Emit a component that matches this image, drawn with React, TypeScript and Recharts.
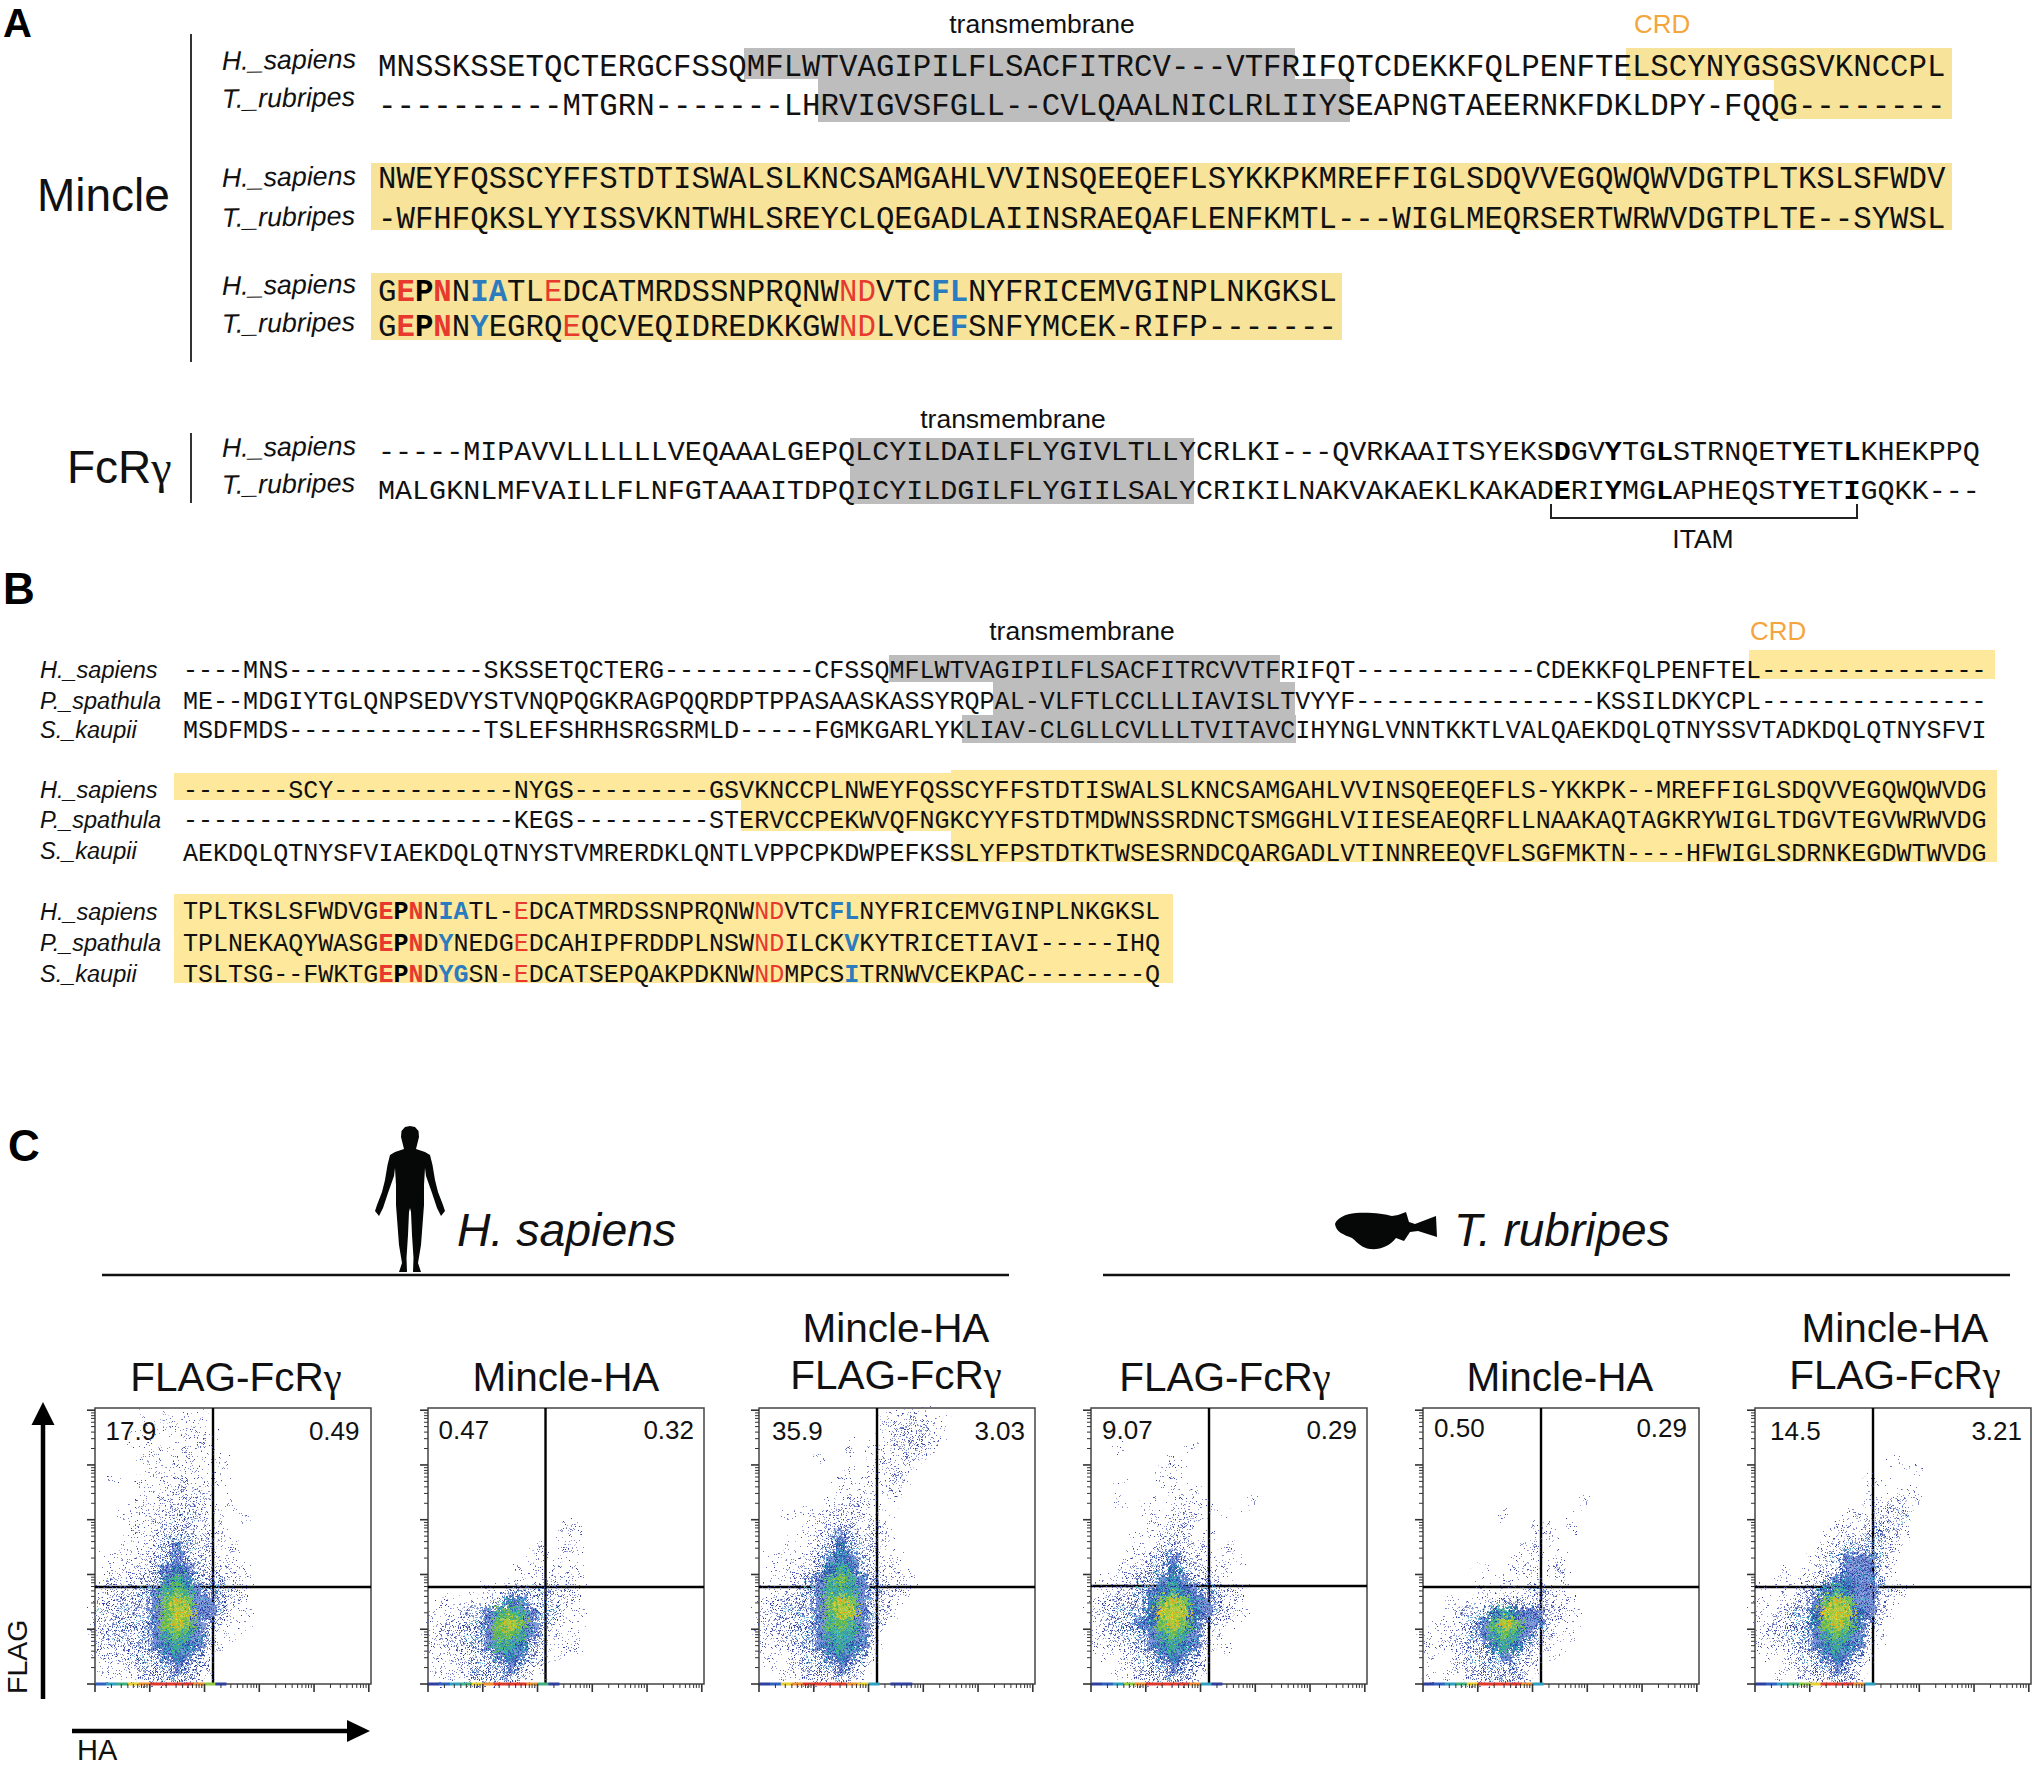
import { ScatterChart, Scatter, XAxis, YAxis, ReferenceLine, ReferenceArea } from "recharts";

// flow plots: density read per 0.2 decade bin, top row first. 0-8 levels, "." empty
const sapiensFlag = [
  "....1 .1.11 ..... ..... .....",
  "....1 .1111 ..... ..... .....",
  "...1. 1.111 1.... ..... .....",
  "....1 .1111 1.... ..... .....",
  "....1 1.111 11... ..... .....",
  "....1 11111 .1... ..... .....",
  ".1..1 11121 11... ..... .....",
  "....1 11222 1.... ..... .....",
  "...11 12222 1.1.. ..... .....",
  "..1.1 12232 11.1. ..... .....",
  "...11 22322 11... ..... .....",
  "...11 23332 21... ..... .....",
  "..111 23432 211.. ..... .....",
  ".1112 23432 211.. ..... .....",
  ".1112 34543 2211. ..... .....",
  ".2122 35653 3321. ..... .....",
  "12223 46764 3321. ..... .....",
  "22233 47874 4321. ..... .....",
  "32323 47884 4311. ..... .....",
  "22333 47874 3211. ..... .....",
  "23323 46764 3.1.. ..... .....",
  "22233 45654 21... ..... .....",
  "12233 34543 1.... ..... .....",
  "11123 33433 1.... ..... .....",
  ".1.12 33332 1.... ..... .....",
];
const sapiensMincle = [
  "..... ..... ..... ..... .....",
  "..... ..... ..... ..... .....",
  "..... ..... ..... ..... .....",
  "..... ..... ..... ..... .....",
  "..... ..... ..... ..... .....",
  "..... ..... ..... ..... .....",
  "..... ..... ..... ..... .....",
  "..... ..... ..... ..... .....",
  "..... ..... ..... ..... .....",
  "..... ..... ..... ..... .....",
  "..... ..... ..11. ..... .....",
  "..... ..... ..1.. ..... .....",
  "..... ..... 1.11. ..... .....",
  "..... ....1 1.1.. ..... .....",
  "..... ...1. 11.1. ..... .....",
  "..... ...11 1221. ..... .....",
  "..... 11233 3221. ..... .....",
  ".1.11 23542 3221. ..... .....",
  "11123 46764 3311. ..... .....",
  "12233 47874 3211. ..... .....",
  "12233 47764 3111. ..... .....",
  "12233 46653 2.11. ..... .....",
  "11223 34543 2.1.. ..... .....",
  "11123 33432 1.... ..... .....",
  ".1123 33321 1.... ..... .....",
];
const sapiensBoth = [
  "..... ..... .1121 1.... .....",
  "..... ..... .1222 21... .....",
  "..... ..... .1222 21... .....",
  "..... ...1. 11222 1.... .....",
  "..... 1.... 12121 ..... .....",
  "..... ...1. 1121. ..... .....",
  "..... ..111 1121. ..... .....",
  "..... ..111 112.. ..... .....",
  "..... .1122 1.... ..... .....",
  "..1.1 12221 1.1.. ..... .....",
  "....1 12321 21... ..... .....",
  "....1 23432 21... ..... .....",
  "..1.1 23532 21... ..... .....",
  ".1.12 34543 211.. ..... .....",
  ".1112 35653 211.. ..... .....",
  "..123 46764 3221. ..... .....",
  "11123 46664 3221. ..... .....",
  "12233 47874 321.. ..... .....",
  "22333 47884 321.. ..... .....",
  "22233 46764 31... ..... .....",
  "12233 46664 2.... ..... .....",
  "11233 45654 1.... ..... .....",
  "11123 34543 1.... ..... .....",
  ".1123 33432 ..... ..... .....",
  "..112 22321 ..... ..... .....",
];
const rubripesFlag = [
  "..... ..... ..... ..... .....",
  "..... ..... ..... ..... .....",
  "..... ..... ..... ..... .....",
  "..1.. ....1 ..... ..... .....",
  "..... ..1.. ..... ..... .....",
  "..... .111. ..... ..... .....",
  "..1.. .11.. ..... ..... .....",
  "..... ..111 ..... ..... .....",
  "..1.. 1.111 1...1 ..... .....",
  "..... 11121 1.1.. ..... .....",
  "..... 11222 ..... ..... .....",
  "....1 12221 1.... ..... .....",
  "...11 12321 1.1.. ..... .....",
  "...11 23432 11.1. ..... .....",
  "..112 33532 211.. ..... .....",
  ".1123 34543 321.. ..... .....",
  "11223 45654 3321. ..... .....",
  "12233 57875 4311. ..... .....",
  "22333 58885 4321. ..... .....",
  "12334 57875 321.. ..... .....",
  "12233 46764 21... ..... .....",
  "11223 45654 2.1.. ..... .....",
  ".1123 34543 1.... ..... .....",
  "..112 33433 1.... ..... .....",
  "...12 23332 ..... ..... .....",
];
const rubripesMincle = [
  "..... ..... ..... ..... .....",
  "..... ..... ..... ..... .....",
  "..... ..... ..... ..... .....",
  "..... ..... ..... ..... .....",
  "..... ..... ..... ..... .....",
  "..... ..... ..... ..... .....",
  "..... ..... ..... ..... .....",
  "..... ..... ..... ..... .....",
  "..... ..... ....1 ..... .....",
  "..... ..1.. ..... ..... .....",
  "..... ..... 11.1. ..... .....",
  "..... ....1 11... ..... .....",
  "..... ....1 1.... ..... .....",
  "..... ...11 1.1.. ..... .....",
  "..... 1..11 112.. ..... .....",
  "..... ..111 1.2.. ..... .....",
  "..... 1.112 321.. ..... .....",
  "..1.1 12332 3211. ..... .....",
  "..123 35654 4221. ..... .....",
  ".1123 46874 4211. ..... .....",
  "11123 46764 3211. ..... .....",
  "11223 35653 21... ..... .....",
  "1.123 33432 1.1.. ..... .....",
  "..122 33332 1.... ..... .....",
  "1.1.2 23332 ..... ..... .....",
];
const rubripesBoth = [
  "..... ..... ..... ..... .....",
  "..... ..... ..... ..... .....",
  "..... ..... ..... ..... .....",
  "..... ..... ..... ..... .....",
  "..... ..... ..1.. ..... .....",
  "..... ..... ....1 ..... .....",
  "..... ..... 11... ..... .....",
  "..... ..... 1..11 ..... .....",
  "..... ..... 11221 ..... .....",
  "..... ...11 1223. ..... .....",
  "..... ..111 2321. ..... .....",
  "..... .1122 3321. ..... .....",
  "..... 11233 331.. ..... .....",
  "..... 12344 431.. ..... .....",
  "..1.1 12344 421.. ..... .....",
  "..1.1 23454 431.. ..... .....",
  "1.112 35654 4221. ..... .....",
  "1.122 47874 421.. ..... .....",
  "11233 58885 421.. ..... .....",
  "12233 57875 31... ..... .....",
  "12233 46764 21... ..... .....",
  "11223 45654 1.... ..... .....",
  ".1123 34543 1.... ..... .....",
  "..112 33432 ..... ..... .....",
  "..1.1 22332 ..... ..... .....",
];

// events piled on the HA axis
const axisStrips = [
  "23467 88887 51... ..... .....",
  "12346 78887 41... ..... .....",
  "12678 88876 3.11. ..... .....",
  "12357 88887 31... ..... .....",
  "12346 88887 3.... ..... .....",
  "12345 68887 3.... ..... .....",
];

const densityGrids = [sapiensFlag, sapiensMincle, sapiensBoth, rubripesFlag, rubripesMincle, rubripesBoth];
const upperLeft = ["17.9", "0.47", "35.9", "9.07", "0.50", "14.5"];
const upperRight = ["0.49", "0.32", "3.03", "0.29", "0.29", "3.21"];
const gateHA = [2.155, 2.146, 2.155, 2.155, 2.155, 2.155];
const gateFLAG = [1.77, 1.77, 1.77, 1.79, 1.77, 1.77];
const panelTitles = [
  ["FLAG-FcR"],
  ["Mincle-HA"],
  ["Mincle-HA", "FLAG-FcR"],
  ["FLAG-FcR"],
  ["Mincle-HA"],
  ["Mincle-HA", "FLAG-FcR"],
];
const decades = [0, 1, 2, 3, 4, 5];
const minorOffsets = [0.3, 0.48, 0.6, 0.7, 0.78, 0.85, 0.9, 0.95];

// alignments. {R|x} bold red, {r|x} red, {B|x} bold blue, {K|x} bold black
const mincleA = [
  "MNSSKSSETQCTERGCFSSQMFLWTVAGIPILFLSACFITRCV---VTFRIFQTCDEKKFQLPENFTELSCYNYGSGSVKNCCPL",
  "----------MTGRN-------LHRVIGVSFGLL--CVLQAALNICLRLIIYSEAPNGTAEERNKFDKLDPY-FQQG--------",
  "NWEYFQSSCYFFSTDTISWALSLKNCSAMGAHLVVINSQEEQEFLSYKKPKMREFFIGLSDQVVEGQWQWVDGTPLTKSLSFWDV",
  "-WFHFQKSLYYISSVKNTWHLSREYCLQEGADLAIINSRAEQAFLENFKMTL---WIGLMEQRSERTWRWVDGTPLTE--SYWSL",
  "G{R|E}{K|P}{R|N}N{B|IA}TL{r|E}DCATMRDSSNPRQNW{r|ND}VTC{B|FL}NYFRICEMVGINPLNKGKSL",
  "G{R|E}{K|P}{R|N}N{B|Y}EGRQ{r|E}QCVEQIDREDKKGW{r|ND}LVCE{B|F}SNFYMCEK-RIFP-------",
];
const fcrA = [
  "-----MIPAVVLLLLLLVEQAAALGEPQLCYILDAILFLYGIVLTLLYCRLKI---QVRKAAITSYEKS{K|D}GV{K|Y}TG{K|L}STRNQET{K|Y}ET{K|L}KHEKPPQ",
  "MALGKNLMFVAILLFLNFGTAAAITDPQICYILDGILFLYGIILSALYCRIKILNAKVAKAEKLKAKAD{K|E}RI{K|Y}MG{K|L}APHEQST{K|Y}ET{K|I}GQKK---",
];
const mincleB = [
  "----MNS-------------SKSSETQCTERG----------CFSSQMFLWTVAGIPILFLSACFITRCVVTFRIFQT------------CDEKKFQLPENFTEL---------------",
  "ME--MDGIYTGLQNPSEDVYSTVNQPQGKRAGPQQRDPTPPASAASKASSYRQPAL-VLFTLCCLLLIAVISLTVYYF----------------KSSILDKYCPL---------------",
  "MSDFMDS-------------TSLEFSHRHSRGSRMLD-----FGMKGARLYKLIAV-CLGLLCVLLLTVITAVCIHYNGLVNNTKKTLVALQAEKDQLQTNYSSVTADKDQLQTNYSFVI",
  "-------SCY------------NYGS---------GSVKNCCPLNWEYFQSSCYFFSTDTISWALSLKNCSAMGAHLVVINSQEEQEFLS-YKKPK--MREFFIGLSDQVVEGQWQWVDG",
  "----------------------KEGS---------STERVCCPEKWVQFNGKCYYFSTDTMDWNSSRDNCTSMGGHLVIIESEAEQRFLLNAAKAQTAGKRYWIGLTDGVTEGVWRWVDG",
  "AEKDQLQTNYSFVIAEKDQLQTNYSTVMRERDKLQNTLVPPCPKDWPEFKSSLYFPSTDTKTWSESRNDCQARGADLVTINNREEQVFLSGFMKTN----HFWIGLSDRNKEGDWTWVDG",
  "TPLTKSLSFWDVG{R|E}{K|P}{R|N}N{B|IA}TL-{r|E}DCATMRDSSNPRQNW{r|ND}VTC{B|FL}NYFRICEMVGINPLNKGKSL",
  "TPLNEKAQYWASG{R|E}{K|P}{R|N}D{B|Y}NEDG{r|E}DCAHIPFRDDPLNSW{r|ND}ILCK{B|V}KYTRICETIAVI-----IHQ",
  "TSLTSG--FWKTG{R|E}{K|P}{R|N}D{B|YG}SN-{r|E}DCATSEPQAKPDKNW{r|ND}MPCS{B|I}TRNWVCEKPAC--------Q",
];

const SANS = "Liberation Sans, Arial, sans-serif";
const MONO = "Liberation Mono, Courier New, monospace";
const RED = "#e8392f";
const BLUE = "#2b7bbf";
const ORANGE = "#f5a53c";
const GREY = "#bdbdbd";
const YELLOW_A = "#f7e39a";
const YELLOW_B = "#fde89b";

// plot boxes
const boxLeft = [95, 427.5, 759, 1091, 1423, 1755];
const boxTop = 1408;
const titleCentre = [236, 566, 896, 1225, 1560, 1895];
const leftValueX = [105.5, 438.5, 772, 1102, 1434, 1770];
const rightValueX = [359.5, 694, 1025, 1357, 1687, 2022];
const valueBase = [1440, 1439, 1440, 1439, 1437, 1440];

// stipple texture, 24px tile
const stippleA = [
  [2, 3], [13, 9], [20, 2], [7, 15], [17, 19], [4, 21], [10, 5], [22, 12], [1, 11], [14, 1], [8, 22], [19, 15], [5, 8], [11, 17], [23, 20], [16, 6],
  [0, 17], [9, 1], [21, 7], [3, 14], [12, 12], [18, 23], [6, 4], [15, 14], [2, 8], [10, 20], [22, 17], [8, 10], [17, 3], [13, 21], [4, 18], [20, 10],
  [6, 12], [11, 8], [0, 5], [16, 11], [23, 2], [7, 19], [14, 17], [19, 5], [3, 23], [12, 3], [21, 21], [5, 1], [9, 14], [18, 8], [1, 20], [15, 23],
];
const stipple = [...stippleA, ...stippleA.map(([x, y]) => [(x + 12) % 24, (y + 7) % 24])];
const levelStyles = [
  { n: 0, bg: "none", dots: ["#fff"] },
  { n: 12, bg: "none", dots: ["#34409f", "#4a55b5"] },
  { n: 32, bg: "none", dots: ["#2f3d9e", "#3a4db0", "#4a5cb8"] },
  { n: 64, bg: "none", dots: ["#2b3a9c", "#3350b5", "#2b3a9c", "#5fb9d8"] },
  { n: 96, bg: "#7f96d8", dots: ["#2b3a9c", "#3555b8", "#2f9fc8", "#2b3a9c"] },
  { n: 96, bg: "#3f70bc", dots: ["#2b3a9c", "#2bb0c8", "#3fbf9f", "#2b3a9c"] },
  { n: 96, bg: "#3fa59a", dots: ["#2a6fbf", "#3fbf70", "#7fc840", "#2bb0c8"] },
  { n: 96, bg: "#5fb55a", dots: ["#3fa890", "#a8cc30", "#8cc83c", "#58b848"] },
  { n: 96, bg: "#a8c83c", dots: ["#f0d820", "#e8c020", "#f09a20", "#8cc83c"] },
];
const stripColors = ["none", "#3040a0", "#3060c0", "#30a0c0", "#40b080", "#90c840", "#e8d030", "#f09030", "#e03828"];

const axisTicks = decades
  .flatMap((d) => [d, ...minorOffsets.map((m) => d + m)])
  .filter((v) => v <= 5.04);

const gridToPoints = (rows: string[]) =>
  rows.flatMap((row, r) =>
    row
      .replace(/ /g, "")
      .split("")
      .map((c, i) => ({ ha: 0.2 * i + 0.1, flag: 4.9 - 0.2 * r, level: c === "." ? 0 : Number(c) }))
      .filter((p) => p.level > 0)
  );

const stripToPoints = (row: string) =>
  row
    .replace(/ /g, "")
    .split("")
    .map((c, i) => ({ ha: 0.2 * i + 0.1, flag: 0, level: c === "." ? 0 : Number(c) }))
    .filter((p) => p.level > 0);

const DensityCell = (props: any) => (
  <rect x={props.cx - 5.5} y={props.cy - 5.5} width={11} height={11} fill={`url(#dens${props.payload.level})`} />
);
const StripCell = (props: any) => (
  <rect x={props.cx - 5.5} y={props.cy - 1.5} width={11} height={3} fill={stripColors[props.payload.level]} />
);

const XTick = ({ x, y, payload }: any) => {
  const major = Number.isInteger(payload.value);
  return <line x1={x} x2={x} y1={y} y2={y + (major ? 8 : 4)} stroke="#333" strokeWidth={major ? 1.6 : 1} />;
};
const YTick = ({ x, y, payload }: any) => {
  const major = Number.isInteger(payload.value);
  return <line x1={x} x2={x - (major ? 8 : 4)} y1={y} y2={y} stroke="#333" strokeWidth={major ? 1.6 : 1} />;
};

function FlowPlot({ index }: { index: number }) {
  return (
    <div style={{ position: "absolute", left: boxLeft[index] - 14, top: boxTop - 2 }}>
      <ScatterChart width={292} height={292} margin={{ top: 2, right: 2, bottom: 0, left: 0 }}>
        <XAxis
          type="number"
          dataKey="ha"
          domain={[0, 5.04]}
          ticks={axisTicks}
          interval={0}
          height={14}
          tickSize={0}
          tickMargin={0}
          tick={<XTick />}
          axisLine={false}
        />
        <YAxis
          type="number"
          dataKey="flag"
          domain={[0, 5.04]}
          ticks={axisTicks}
          interval={0}
          width={14}
          tickSize={0}
          tickMargin={0}
          tick={<YTick />}
          axisLine={false}
        />
        <Scatter className="dens" data={gridToPoints(densityGrids[index])} shape={<DensityCell />} isAnimationActive={false} />
        <Scatter data={stripToPoints(axisStrips[index])} shape={<StripCell />} isAnimationActive={false} />
        <ReferenceArea x1={0} x2={5.04} y1={0} y2={5.04} fill="none" stroke="#444" strokeWidth={1.5} />
        <ReferenceLine x={gateHA[index]} stroke="#000" strokeWidth={2.4} />
        <ReferenceLine y={gateFLAG[index]} stroke="#000" strokeWidth={2.4} />
      </ScatterChart>
    </div>
  );
}

function SeqRow({ seq, x, y, pitch }: { seq: string; x: number; y: number; pitch: number }) {
  const parts = seq.split(/(\{\w\|[^}]*\})/).filter(Boolean);
  const plain = seq.replace(/\{\w\|([^}]*)\}/g, "$1");
  return (
    <text
      x={x}
      y={y}
      fontFamily={MONO}
      fontSize={pitch / 0.6}
      fill="#111"
      textLength={plain.length * pitch}
      lengthAdjust="spacing"
    >
      {parts.map((p, i) => {
        const m = p.match(/^\{(\w)\|([^}]*)\}$/);
        if (!m) return <tspan key={i}>{p}</tspan>;
        const kind = m[1];
        return (
          <tspan
            key={i}
            fontWeight={kind === "r" ? "normal" : "bold"}
            fill={kind === "R" || kind === "r" ? RED : kind === "B" ? BLUE : "#000"}
          >
            {m[2]}
          </tspan>
        );
      })}
    </text>
  );
}

const Species = ({ name, x, y, size, tilt = 0 }: any) => (
  <text x={x} y={y} fontFamily={SANS} fontStyle="italic" fontSize={size} fill="#111" transform={tilt ? `rotate(${tilt} ${x} ${y})` : undefined}>
    {name}
  </text>
);

const Plain = ({ x, y, size, children, anchor = "start", fill = "#111", weight = "normal" }: any) => (
  <text x={x} y={y} fontFamily={SANS} fontSize={size} textAnchor={anchor} fill={fill} fontWeight={weight}>
    {children}
  </text>
);

const Gamma = () => <tspan fontFamily="Liberation Serif, serif">γ</tspan>;

const humanHalf =
  "M0 1126 L5 1127 L8.5 1131 L9 1137 L7.5 1143 L6 1149 L15 1152 L20 1155 L22.5 1165 L25 1180 L28 1192 L33 1205 L35 1211 L31 1216 L27 1208 L22 1193 L16 1176 L15 1168 L14 1185 L14 1205 L12.5 1225 L11 1245 L8 1263 L11 1272 L3 1272 L3.5 1258 L2 1235 L1 1212 L0 1208 Z";
const fishPath =
  "M1335 1224 C1337 1218 1345 1214 1356 1213 C1370 1212 1385 1214 1392 1216 L1398 1215 L1406 1212 L1409 1222 L1415 1224 L1436 1216 L1437 1237 L1418 1231 L1410 1232 L1404 1241 L1396 1238 C1390 1246 1380 1250 1370 1249 C1362 1248 1358 1243 1352 1238 C1344 1235 1336 1232 1335 1224 Z";

export default function App() {
  return (
    <div style={{ position: "relative", width: 2032, height: 1767, background: "#fff", overflow: "hidden" }}>
      <style>{"body{margin:0} .dens{filter:url(#speckle)}"}</style>
      <svg width={2032} height={1767} style={{ position: "absolute", left: 0, top: 0 }}>
        <defs>
          {levelStyles.map((l, i) => (
            <pattern key={i} id={`dens${i}`} width={24} height={24} patternUnits="userSpaceOnUse">
              {l.bg !== "none" && <rect width={24} height={24} fill={l.bg} />}
              {stipple.slice(0, l.n).map((d, j) => (
                <rect key={j} x={d[0]} y={d[1]} width={1.7} height={1.7} fill={l.dots[j % l.dots.length]} />
              ))}
            </pattern>
          ))}
          {/* roughens the bin edges so they read as scattered events */}
          <filter id="speckle" x="-10%" y="-10%" width="120%" height="120%" colorInterpolationFilters="sRGB">
            <feTurbulence type="fractalNoise" baseFrequency="0.35" numOctaves={2} seed={4} result="n" />
            <feDisplacementMap in="SourceGraphic" in2="n" scale={26} xChannelSelector="R" yChannelSelector="G" />
          </filter>
        </defs>

        {/* panel A shading */}
        <rect x={744} y={48} width={551} height={31} fill={GREY} />
        <rect x={818} y={79} width={532} height={43} fill={GREY} />
        <rect x={1626} y={48} width={326} height={32} fill={YELLOW_A} />
        <rect x={1774} y={80} width={178} height={39} fill={YELLOW_A} />
        <rect x={371} y={163} width={1581} height={67} fill={YELLOW_A} />
        <rect x={371} y={273} width={971} height={67} fill={YELLOW_A} />
        <rect x={850} y={438} width={344} height={66} fill={GREY} />

        {/* panel B shading */}
        <rect x={889} y={655} width={391} height={27} fill={GREY} />
        <rect x={993} y={682} width={302} height={33} fill={GREY} />
        <rect x={962} y={715} width={334} height={28} fill={GREY} />
        <rect x={1749} y={650} width={246} height={29} fill={YELLOW_B} />
        <rect x={174} y={773} width={777} height={27} fill={YELLOW_B} />
        <rect x={741} y={800} width={210} height={31} fill={YELLOW_B} />
        <rect x={951} y={770} width={1046} height={92} fill={YELLOW_B} />
        <rect x={174} y={894} width={999} height={89} fill={YELLOW_B} />

        <Plain x={3} y={37} size={40} weight="bold" fill="#000">A</Plain>
        <Plain x={3} y={604} size={44} weight="bold" fill="#000">B</Plain>
        <Plain x={8} y={1161} size={44} weight="bold" fill="#000">C</Plain>

        <line x1={191} x2={191} y1={34} y2={362} stroke="#333" strokeWidth={2} />
        <line x1={191} x2={191} y1={433} y2={503} stroke="#333" strokeWidth={2} />
        <Plain x={37} y={211} size={46}>Mincle</Plain>
        <Plain x={67} y={483} size={46}>FcR<Gamma /></Plain>

        <Plain x={1042} y={33} size={26.5} anchor="middle">transmembrane</Plain>
        <Plain x={1634} y={33} size={26} fill={ORANGE}>CRD</Plain>
        <Plain x={1013} y={428} size={26.5} anchor="middle">transmembrane</Plain>
        <Plain x={1082} y={640} size={26.5} anchor="middle">transmembrane</Plain>
        <Plain x={1750} y={640} size={26} fill={ORANGE}>CRD</Plain>
        <Plain x={1703} y={548} size={26.5} anchor="middle">ITAM</Plain>
        <path d="M1551 504 V518 H1857 V504" fill="none" stroke="#222" strokeWidth={2} />

        {[70, 108, 187, 227, 295, 333].map((y, i) => (
          <Species key={i} name={i % 2 ? "T._rubripes" : "H._sapiens"} x={222} y={y} size={26.8} tilt={-1} />
        ))}
        <Species name="H._sapiens" x={222} y={457} size={26.8} tilt={-1} />
        <Species name="T._rubripes" x={222} y={494} size={26.8} tilt={-1} />
        {[678, 709, 738, 798, 828, 859, 920, 951, 982].map((y, i) => (
          <Species key={i} name={["H._sapiens", "P._spathula", "S._kaupii"][i % 3]} x={40} y={y} size={23.5} />
        ))}

        {[76, 115, 188, 228, 301, 336].map((y, i) => (
          <SeqRow key={i} seq={mincleA[i]} x={378} y={y} pitch={18.44} />
        ))}
        {[460, 499].map((y, i) => (
          <SeqRow key={i} seq={fcrA[i]} x={378} y={y} pitch={17.04} />
        ))}
        {[678, 709, 738, 798, 828, 861, 919, 951, 982].map((y, i) => (
          <SeqRow key={i} seq={mincleB[i]} x={183} y={y} pitch={15.03} />
        ))}

        {/* panel C header */}
        <g transform="translate(410,0)" fill="#060808">
          <path d={humanHalf} />
          <path d={humanHalf} transform="scale(-1,1)" />
        </g>
        <path d={fishPath} fill="#060808" />
        <text x={457} y={1246} fontFamily={SANS} fontStyle="italic" fontSize={46.4} fill="#111">H. sapiens</text>
        <text x={1454} y={1246} fontFamily={SANS} fontStyle="italic" fontSize={46} fill="#111">T. rubripes</text>
        <line x1={102} x2={1009} y1={1275} y2={1275} stroke="#111" strokeWidth={2.5} />
        <line x1={1103} x2={2010} y1={1275} y2={1275} stroke="#111" strokeWidth={2.5} />

        {panelTitles.map((lines, i) =>
          lines.map((t, j) => (
            <Plain key={`${i}-${j}`} x={titleCentre[i]} y={lines.length === 2 ? (j === 0 ? 1342 : 1389) : 1391} size={40.5} anchor="middle">
              {t}
              {t.startsWith("FLAG") && <Gamma />}
            </Plain>
          ))
        )}

        {/* FLAG / HA arrows */}
        <line x1={43} x2={43} y1={1699} y2={1420} stroke="#000" strokeWidth={4.5} />
        <path d="M43 1402 L54.5 1425 L31.5 1425 Z" fill="#000" />
        <line x1={72} x2={350} y1={1731} y2={1731} stroke="#000" strokeWidth={4.5} />
        <path d="M370 1731 L347 1720 L347 1742 Z" fill="#000" />
        <text transform="translate(27,1694) rotate(-90)" fontFamily={SANS} fontSize={28.5} fill="#111">FLAG</text>
        <Plain x={77} y={1760} size={29}>HA</Plain>
      </svg>

      {densityGrids.map((_, i) => (
        <FlowPlot key={i} index={i} />
      ))}

      <svg width={2032} height={1767} style={{ position: "absolute", left: 0, top: 0, pointerEvents: "none" }}>
        {upperLeft.map((v, i) => (
          <Plain key={i} x={leftValueX[i]} y={valueBase[i]} size={26}>{v}</Plain>
        ))}
        {upperRight.map((v, i) => (
          <Plain key={i} x={rightValueX[i]} y={valueBase[i]} size={26} anchor="end">{v}</Plain>
        ))}
      </svg>
    </div>
  );
}
